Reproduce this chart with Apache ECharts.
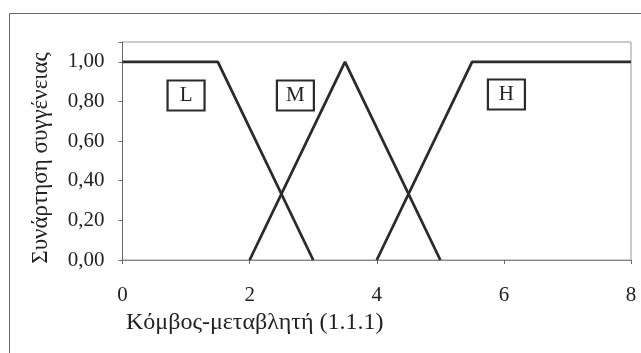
<!DOCTYPE html>
<html>
<head>
<meta charset="utf-8">
<script src="https://cdn.jsdelivr.net/npm/echarts@6/dist/echarts.min.js"></script>
<style>
  html, body { margin: 0; padding: 0; background: #fff; }
  #chart { width: 641px; height: 353px; }
</style>
</head>
<body>
<div id="chart"></div>
<script>
  // membership functions, x / membership pairs
  var lowX = [0, 1.5, 3]
  var lowY = [1, 1, 0]
  var midX = [2, 3.5, 5]
  var midY = [0, 1, 0]
  var highX = [4, 5.5, 8]
  var highY = [0, 1, 1]
  // boxed labels: name, x, membership
  var tagNames = ['L', 'M', 'H']
  var tagX = [1.0, 2.72, 6.04]
  var tagY = [0.83, 0.83, 0.835]

  var serif = 'Liberation Serif, Times New Roman, serif'

  function pairs (xs, ys) {
    return xs.map(function (x, i) { return [x, ys[i]] })
  }

  function lineSeries (name, xs, ys) {
    return {
      name: name,
      type: 'line',
      data: pairs(xs, ys),
      symbol: 'none',
      lineStyle: { color: '#2b2b2b', width: 2.8 },
      z: 3
    }
  }

  var chart = echarts.init(document.getElementById('chart'))
  chart.setOption({
    animation: false,
    graphic: [{
      type: 'rect',
      left: 7,
      top: 11,
      shape: { width: 700, height: 400 },
      style: { fill: 'none', stroke: '#666', lineWidth: 1 }
    }],
    title: {
      text: 'Κόμβος-μεταβλητή (1.1.1)',
      left: 121,
      top: 306,
      textStyle: { fontFamily: serif, fontSize: 24, fontWeight: 'normal', color: '#222' }
    },
    grid: {
      left: 122.5,
      right: 10,
      top: 42,
      bottom: 93,
      show: true,
      borderColor: '#999',
      borderWidth: 1
    },
    xAxis: {
      type: 'value',
      min: 0,
      max: 8,
      interval: 2,
      splitLine: { show: false },
      axisLine: { lineStyle: { color: '#888', width: 1 } },
      axisTick: { show: true, length: 4, lineStyle: { color: '#666' } },
      axisLabel: { margin: 25, fontFamily: serif, fontSize: 21, color: '#222' }
    },
    yAxis: {
      type: 'value',
      min: 0,
      max: 1.1,
      interval: 0.2,
      name: 'Συνάρτηση συγγένειας',
      nameLocation: 'middle',
      nameGap: 70,
      nameTextStyle: { fontFamily: serif, fontSize: 23, color: '#222', padding: [0, 14, 0, 0] },
      splitLine: { show: false },
      axisLine: { show: true, lineStyle: { color: '#666', width: 1 } },
      axisTick: { show: true, length: 4, lineStyle: { color: '#666' } },
      axisLabel: {
        margin: 18,
        fontFamily: serif,
        fontSize: 21,
        color: '#222',
        formatter: function (v) {
          return v > 1.05 ? '' : v.toFixed(2).replace('.', ',')
        }
      }
    },
    series: [
      lineSeries('L', lowX, lowY),
      lineSeries('M', midX, midY),
      lineSeries('H', highX, highY),
      {
        type: 'scatter',
        symbol: 'rect',
        symbolSize: [37, 30],
        itemStyle: { color: '#fff', borderColor: '#2b2b2b', borderWidth: 2, opacity: 1 },
        label: {
          show: true,
          position: 'inside',
          formatter: function (p) { return p.data[2] },
          fontFamily: serif,
          fontSize: 21,
          color: '#222'
        },
        data: tagNames.map(function (n, i) { return [tagX[i], tagY[i], n] }),
        z: 4
      }
    ]
  })
</script>
</body>
</html>
